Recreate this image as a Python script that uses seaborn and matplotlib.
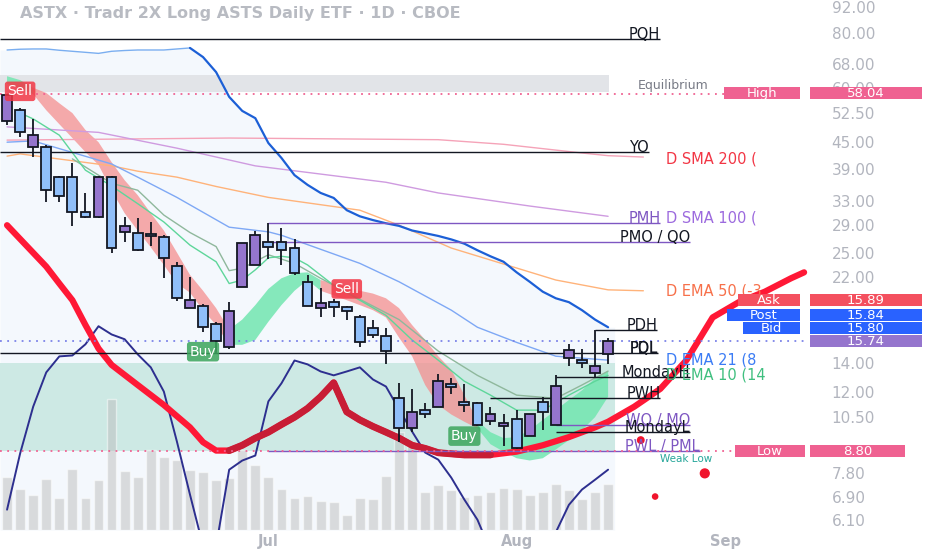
import matplotlib
matplotlib.use("Agg")
import matplotlib.pyplot as plt
from matplotlib.patches import Rectangle
from matplotlib.ticker import FixedLocator, FixedFormatter, NullLocator
import numpy as np
import seaborn as sns

# Daily candles
opens = [50.3, 53.4, 43.9, 43.9, 37.4, 37.4, 31.1, 30.3, 37.4, 28.0,
         27.8, 27.7, 27.2, 23.4, 18.7, 18.9, 17.2, 15.2, 20.9, 23.5,
         26.5, 26.5, 25.7, 21.5, 18.7, 19.3, 18.8, 17.8, 16.8, 16.1,
         11.6, 9.9, 10.9, 11.1, 12.5, 11.4, 11.3, 10.3, 10.0, 10.4,
         9.5, 11.4, 10.1, 14.4, 14.2, 13.3, 14.7]
highs = [58.04, 53.9, 50.9, 44.3, 37.6, 40.3, 34.4, 37.6, 37.6, 30.3,
         30.1, 29.5, 27.5, 23.9, 22.1, 19.1, 17.4, 19.3, 26.4, 28.1,
         29.3, 28.6, 27.0, 22.3, 20.8, 19.6, 18.9, 18.0, 17.6, 16.8,
         12.6, 12.2, 11.3, 13.2, 12.9, 12.5, 11.4, 11.1, 10.7, 10.9,
         10.7, 11.7, 13.1, 15.5, 15.1, 16.7, 16.0]
lows = [49.3, 46.2, 41.6, 32.8, 32.8, 28.9, 30.2, 30.1, 25.0, 26.5,
        25.3, 26.0, 21.9, 19.4, 18.7, 16.5, 14.75, 15.1, 20.9, 23.5,
        24.3, 23.5, 22.3, 18.9, 17.8, 17.8, 17.6, 15.2, 16.0, 13.95,
        9.2, 9.7, 10.45, 11.1, 11.9, 10.8, 10.0, 10.1, 9.0, 8.85,
        9.5, 9.8, 10.1, 13.8, 13.6, 13.0, 13.9]
closes = [57.8, 47.5, 46.7, 34.9, 33.8, 31.1, 30.3, 37.4, 25.7, 28.9,
          25.4, 27.4, 24.4, 19.7, 19.5, 16.9, 15.7, 18.4, 26.4, 27.5,
          25.8, 25.4, 22.5, 18.9, 19.2, 18.8, 18.4, 15.6, 16.2, 14.9,
          9.9, 10.8, 10.7, 12.7, 12.3, 11.2, 10.1, 10.7, 10.2, 8.9,
          10.7, 10.8, 12.4, 15.0, 14.0, 13.8, 15.74]
volume = [5.3, 4.1, 3.5, 5.1, 3.2, 6.1, 3.2, 5.0, 13.1, 5.9,
          5.3, 8.0, 7.3, 7.0, 6.0, 5.8, 5.0, 5.2, 8.0, 6.5,
          5.3, 4.1, 3.2, 3.4, 2.9, 2.8, 1.5, 3.2, 3.1, 5.4,
          9.8, 8.8, 3.8, 4.5, 4.0, 3.3, 3.5, 3.8, 4.2, 4.1,
          3.5, 3.8, 4.6, 4.0, 3.1, 3.8, 4.6]

# Upper channel line
upper_band = [73.3, 73.6, 73.7, 73.7, 73.2, 72.8, 72.4, 72.0, 72.8, 73.1,
              73.3, 73.3, 73.3, 73.7, 74.1, 70.6, 65.2, 57.2, 53.1, 51.1,
              44.8, 41.4, 37.8, 35.9, 34.4, 33.5, 31.4, 30.4, 29.8, 29.3,
              28.9, 28.2, 27.8, 27.4, 26.9, 26.3, 25.4, 24.6, 23.9, 22.6,
              21.5, 20.4, 19.7, 19.3, 18.5, 17.6, 16.9]

# Trend ribbon (two edges + direction)
rib_hi = [63.8, 62.5, 60.0, 58.4, 55.3, 52.5, 48.0, 45.0, 40.5, 36.8,
          34.0, 30.9, 28.2, 25.1, 22.3, 20.5, 18.7, 16.7, 17.6, 19.0,
          20.7, 21.9, 22.5, 22.6, 21.7, 21.3, 20.9, 20.5, 20.2, 19.7,
          18.7, 17.1, 15.8, 14.5, 13.5, 11.8, 10.3, 9.7, 9.4, 9.45,
          9.8, 10.35, 10.9, 11.5, 12.1, 12.9, 13.4]
rib_lo = [61.2, 60.0, 58.0, 53.3, 49.5, 46.0, 42.7, 39.9, 34.9, 30.9,
          28.2, 25.8, 23.5, 21.3, 20.3, 18.5, 17.1, 15.4, 15.4, 15.8,
          17.4, 19.0, 20.5, 21.7, 20.5, 20.0, 19.5, 19.0, 18.5, 17.8,
          16.0, 14.5, 12.45, 11.2, 10.65, 10.25, 9.9, 9.1, 8.75, 8.45,
          8.35, 8.45, 8.85, 9.3, 9.8, 10.5, 11.7]
ribbon_up = [1, 1] + [0] * 15 + [1] * 7 + [0] * 12 + [1] * 11

# Moving averages (bar, value)
sma200_bars = [0, 17, 33, 38, 44, 46, 48.7]
sma200 = [45.5, 46.0, 45.6, 44.5, 42.5, 41.9, 41.6]
sma100_bars = [0, 7, 13, 19, 29, 33, 40, 46]
sma100 = [48.8, 47.4, 43.6, 39.7, 36.4, 34.4, 32.1, 30.4]
ema50_bars = [0, 1, 8, 10, 13, 16, 20, 27, 30, 34, 42, 46, 48.7]
ema50 = [41.8, 42.3, 39.7, 38.6, 37.4, 35.6, 33.6, 31.4, 29.0, 25.7, 21.7, 20.6, 20.5]
ema21_bars = [0, 2, 8, 10, 13, 17, 20, 21, 27, 30, 34, 36, 39, 42, 46]
ema21 = [45.0, 45.3, 40.1, 37.4, 33.6, 28.7, 28.0, 27.5, 23.7, 21.5, 18.5, 16.9, 15.6, 14.5, 14.2]
ema10_bars = [1, 2, 4, 6, 8, 10, 12, 14, 16, 17, 18, 19, 20, 21, 22, 23, 25, 27,
              29, 31, 33, 35, 37, 39, 41, 43, 45, 46]
ema10 = [52.5, 50.9, 46.7, 38.8, 35.7, 32.5, 29.5, 26.1, 23.9, 21.3, 21.7, 22.9, 24.4,
         24.6, 24.4, 23.5, 21.1, 19.5, 18.0, 15.8, 14.2, 12.7, 11.8, 10.9, 10.9, 11.8,
         12.7, 13.1]
ema8_bars = [5, 8, 10, 12, 14, 16, 17, 18, 20, 22, 24, 27, 30, 33, 36, 39, 42, 44, 46]
ema8 = [41.2, 36.2, 34.9, 30.6, 27.9, 25.9, 22.8, 23.1, 24.8, 23.7, 21.9, 19.6, 17.6,
        14.9, 13.1, 11.8, 11.6, 12.45, 13.4]

# Thick trend curve (extends into the future)
curve_bars = [0, 3, 4, 5, 6, 7, 8, 10, 12, 14, 15, 16, 17, 18, 19, 20, 21, 22, 23,
              24, 25, 26, 27, 28, 29, 30, 31, 32, 33, 35, 37, 39, 41, 43, 45, 46,
              48, 50, 52, 54, 56, 58, 60, 61]
curve = [29.0, 23.3, 21.3, 19.5, 17.1, 15.1, 13.85, 12.45, 11.2, 9.95, 9.2, 8.8, 8.8,
         9.05, 9.4, 9.7, 10.1, 10.5, 11.0, 11.7, 12.6, 10.8, 10.35, 10.0, 9.7, 9.4,
         9.05, 8.9, 8.7, 8.6, 8.6, 8.75, 9.05, 9.45, 9.95, 10.25, 11.1, 12.2, 14.2,
         17.8, 19.3, 20.4, 21.9, 22.6]

# Oscillator overlay (0-100ish)
osc = [7.9, 32.5, 53, 68, 75, 75.4, 80.3, 88.2, 84.6, 82.5, 75.9, 70.2, 59.6, 37.7,
       14.5, -8, -8, 25.4, 29.4, 31.6, 55.3, 63.2, 73.2, 71.5, 68.4, 66.7, 68.4, 70.2,
       64.9, 61.8, 51.8, 42.1, 32.9, 29.8, 21.9, 12.3, 3.5, -10, -10, -10, -10, -10,
       -2, 10, 16.7, 21, 25.4]

# Key levels
level_names = ["PQH", "YO", "PQL", "PMH", "PMO / QO", "PDH", "MondayH", "PWH",
               "WO / MO", "MondayL", "PWL / PML"]
level_prices = [77.7, 42.7, 14.75, 29.3, 26.5, 16.7, 13.0, 11.6, 10.1, 9.7, 8.8]
level_start = [-1, -1, -1, 20, 20, 45, 42, 37, 42, 42, 20]

eq_top, eq_bottom = 64.2, 58.7
zone_top, zone_bottom = 14.0, 8.8
high_price, low_price = 58.04, 8.80
ask, post, bid, last = 15.89, 15.84, 15.80, 15.74

signal_bars = [1, 26, 15, 35]
signal_prices = [58.9, 20.7, 14.85, 9.5]
signal_names = ["Sell", "Sell", "Buy", "Buy"]

dot_bars = [48.5, 53.4, 49.6]
dot_prices = [9.3, 7.8, 6.9]

ma_names = ["D SMA 200 (", "D SMA 100 (", "D EMA 50 (-3", "D EMA 21 (8", "D EMA 10 (14"]
ma_label_prices = [41.1, 30.1, 20.5, 14.2, 13.1]

y_ticks = [92, 80, 68, 60, 52.5, 45, 39, 33, 29, 25, 22, 14, 12, 10.5, 7.8, 6.9, 6.1]
month_bars = [20, 39, 55]
month_names = ["Jul", "Aug", "Sep"]

# ---- figure ----
sns.set_style("white")
plt.rcParams["font.family"] = ["DejaVu Sans"]

W, H = 932, 550
fig = plt.figure(figsize=(W / 100, H / 100), dpi=100)
ax = fig.add_axes([0, 20 / H, 808 / W, 530 / H])
ax_bg = ax.twinx()
ax_vol = ax.twinx()
ax_osc = ax.twinx()
for z, a in enumerate([ax_bg, ax_vol, ax_osc]):
    a.set_zorder(z)
    a.axis("off")
ax.set_zorder(3)
ax.patch.set_visible(False)

x_lo, x_hi = -0.54, 61.3
p_lo, p_hi = 5.78, 95.5
bars = np.arange(len(opens))

# background zones
fx = np.r_[x_lo, bars, 46.5]
fu = np.r_[upper_band[0], upper_band, upper_band[-1]]
ax_bg.set_yscale("log")
ax_bg.fill_between(fx, fu, p_lo, color="#f4f8fd", lw=0)
ax_bg.fill_between([x_lo, 46.5], zone_bottom, zone_top, color="#cde9e4", lw=0)
ax_bg.fill_between([x_lo, 46.1], eq_bottom, eq_top, color="#e2e4e8", lw=0)

# volume
sns.barplot(x=bars, y=volume, native_scale=True, ax=ax_vol, color="#bdbdbd",
            alpha=0.5, width=0.75, errorbar=None, saturation=1)

# oscillator
sns.lineplot(x=bars, y=osc, ax=ax_osc, color="#2d2f8f", linewidth=1.4)

# ribbon
up = np.array(ribbon_up, dtype=bool)
green = up | np.r_[False, up[:-1]]
red = ~up | np.r_[False, ~up[:-1]]
ax.fill_between(bars, rib_hi, rib_lo, where=green, color="#72e6b0", alpha=0.85, lw=0, zorder=1)
ax.fill_between(bars, rib_hi, rib_lo, where=red, color="#f58f8f", alpha=0.75, lw=0, zorder=1)

# moving averages
sns.lineplot(x=sma200_bars, y=sma200, ax=ax, color="#f5a3b8", linewidth=1.0)
sns.lineplot(x=sma100_bars, y=sma100, ax=ax, color="#cf9be0", linewidth=1.0)
sns.lineplot(x=ema50_bars, y=ema50, ax=ax, color="#ffb37a", linewidth=1.0)
sns.lineplot(x=ema21_bars, y=ema21, ax=ax, color="#7ea8f5", linewidth=1.0)
sns.lineplot(x=ema8_bars, y=ema8, ax=ax, color="#8fb89c", linewidth=1.0)
sns.lineplot(x=ema10_bars, y=ema10, ax=ax, color="#5ed69a", linewidth=1.0)
ub = np.array(upper_band)
sns.lineplot(x=bars[:15], y=ub[:15], ax=ax, color="#7aaef0", linewidth=1.0)
sns.lineplot(x=bars[14:], y=ub[14:], ax=ax, color="#1c5fd6", linewidth=1.6)

# thick curve
cb, cv = np.array(curve_bars), np.array(curve)
mid = (cb >= 17) & (cb <= 37)
ax.plot(cb, cv, color="#ff1836", lw=4.5, zorder=3, solid_capstyle="round")
ax.plot(cb[mid], cv[mid], color="#c81d35", lw=5, zorder=3.1, solid_capstyle="round")

# levels
level_end = [50.0, 49.1, 49.8, 50.0, 52.3, 49.75, 52.3, 50.0, 52.3, 52.3, 53.0]
line_colors = ["#131722", "#131722", "#131722", "#7e57c2", "#7e57c2", "#131722",
               "#131722", "#131722", "#7e57c2", "#131722", "#7e57c2"]
text_colors = ["#131722", "#131722", "#131722", "#7e57c2", "#131722", "#131722",
               "#131722", "#131722", "#7e57c2", "#131722", "#7e57c2"]
ax.hlines(level_prices, np.maximum(level_start, x_lo), level_end, colors=line_colors,
          lw=1, zorder=4)
for name, price, xe, c in zip(level_names, level_prices, level_end, text_colors):
    ax.text(xe, price, name, ha="right", va="baseline", fontsize=10.5, color=c, zorder=8)
ax.text(49.8, 14.75, "PDL", ha="right", va="baseline", fontsize=10.5, color="#131722", zorder=8)

ax.plot([x_lo, 54.9], [high_price] * 2, color="#f06292", lw=1.3, ls=(0, (1, 3)), zorder=4)
ax.plot([x_lo, 55.7], [low_price] * 2, color="#f06292", lw=1.3, ls=(0, (1, 3)), zorder=4)
ax.plot([x_lo, x_hi], [last] * 2, color="#7c83e8", lw=1.3, ls=(0, (1, 3)), zorder=4)

ax.text(48.3, 60.9, "Equilibrium", fontsize=9, color="#787b86", va="center", zorder=8)
ax.text(50.0, 8.4, "Weak Low", fontsize=7.5, color="#26a69a", va="center", zorder=8)
ma_colors = ["#f23645", "#9c6ade", "#f7704a", "#3b7cf5", "#3fbf7f"]
for name, price, c in zip(ma_names, ma_label_prices, ma_colors):
    ax.text(50.4, price, name, fontsize=10.5, color=c, va="center", zorder=8, clip_on=True)

# candles
o, h, l, c = map(np.array, (opens, highs, lows, closes))
cols = np.where(c >= o, "#9575cd", "#90bff9")
ax.vlines(bars, l, h, color="#131722", lw=1.3, zorder=5)
ax.bar(bars, np.abs(c - o), bottom=np.minimum(o, c), width=0.75, color=cols,
       edgecolor="#131722", linewidth=1.3, zorder=6)

# signals
for b, p, s in zip(signal_bars, signal_prices, signal_names):
    fc = "#f23645" if s == "Sell" else "#3ba55c"
    ax.text(b, p, s, ha="center", va="center", color="white", fontsize=10, zorder=9,
            bbox=dict(boxstyle="round,pad=0.2", fc=fc, ec="none", alpha=0.85))
ax.scatter(dot_bars, dot_prices, s=[22, 40, 14], color="#f0142c", marker="o", zorder=7)

# axes
ax.set_yscale("log")
for a in (ax, ax_bg):
    a.set_ylim(p_lo, p_hi)
ax.set_xlim(x_lo, x_hi)
ax_vol.set_ylim(0, 53)
ax_osc.set_ylim(-1, 231)
ax.yaxis.tick_right()
ax.yaxis.set_major_locator(FixedLocator(y_ticks))
ax.yaxis.set_major_formatter(FixedFormatter([f"{t:.2f}" for t in y_ticks]))
ax.yaxis.set_minor_locator(NullLocator())
ax.tick_params(axis="y", length=0, pad=17, labelsize=11, labelcolor="#b2b5be")
ax.set_xticks(month_bars)
ax.set_xticklabels(month_names, fontweight="bold")
ax.tick_params(axis="x", length=0, pad=3, labelsize=10.5, labelcolor="#b2b5be")
for s in ax.spines.values():
    s.set_visible(False)
ax.set_xlabel("")
ax.set_ylabel("")

# price scale tags
def tag(x0, y0, x1, y1, color, label):
    fig.add_artist(Rectangle((x0 / W, 1 - y1 / H), (x1 - x0) / W, (y1 - y0) / H,
                             transform=fig.transFigure, color=color, lw=0, zorder=10))
    fig.text((x0 + x1) / 2 / W, 1 - (y0 + y1) / 2 / H - 0.001, label, color="white",
             fontsize=9.5, ha="center", va="center", zorder=11)

tag(724, 87, 800, 99, "#ef6191", "High")
tag(810, 87, 922, 99, "#ef6191", f"{high_price:.2f}")
tag(738, 294, 800, 306, "#f4505f", "Ask")
tag(810, 294, 922, 306, "#f4505f", f"{ask:.2f}")
tag(727, 309, 800, 321, "#2962ff", "Post")
tag(810, 309, 922, 321, "#2962ff", f"{post:.2f}")
tag(743, 322, 800, 334, "#2962ff", "Bid")
tag(810, 322, 922, 334, "#2962ff", f"{bid:.2f}")
tag(810, 335, 922, 347, "#9575cd", f"{last:.2f}")
tag(735, 445, 805, 457, "#ef6191", "Low")
tag(810, 445, 905, 457, "#ef6191", f"{low_price:.2f}")

fig.text(20 / W, 1 - 18 / H, "ASTX · Tradr 2X Long ASTS Daily ETF · 1D · CBOE",
         fontsize=11.5, fontweight="bold", color="#b8bbc2", va="baseline")

fig.savefig("out.png", dpi=100, facecolor="white")
